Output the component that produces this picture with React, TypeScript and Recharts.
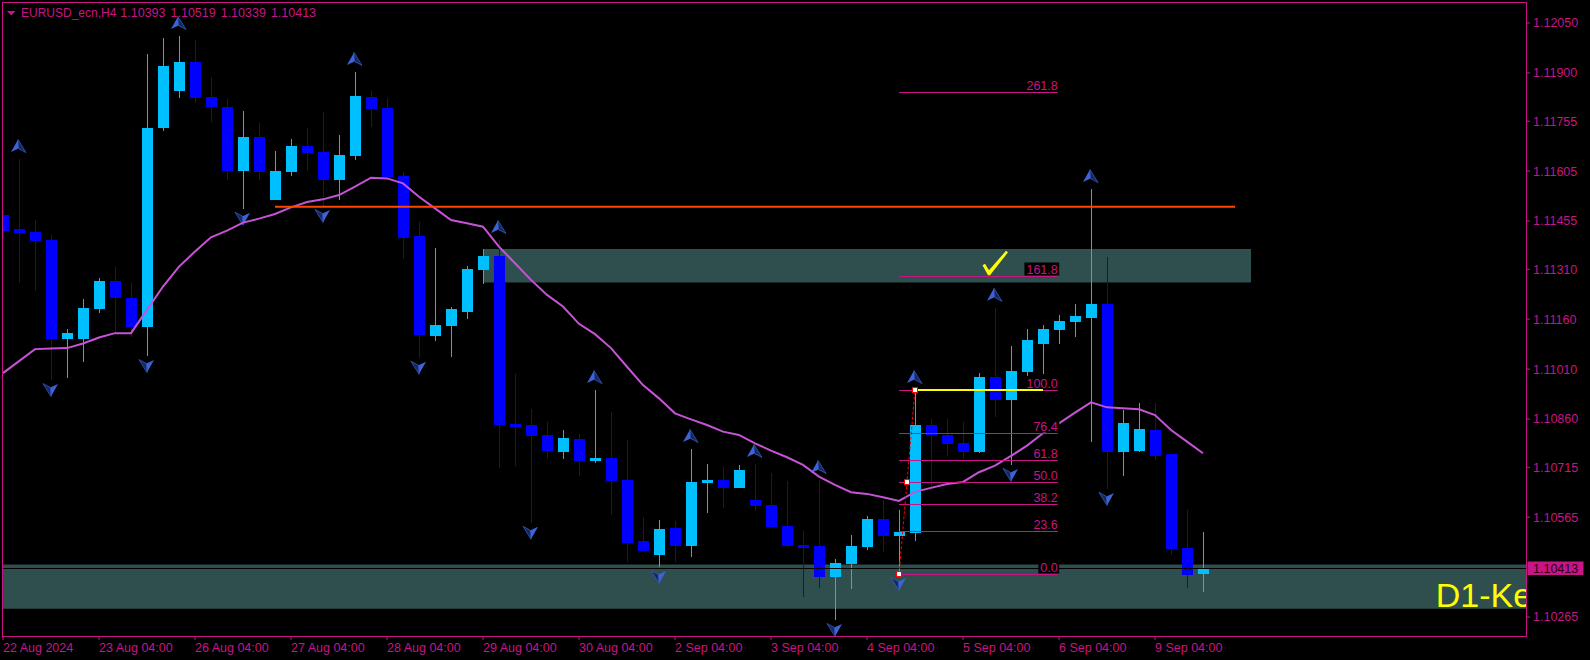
import React from "react";
import {
  Bar,
  ComposedChart,
  Line,
  ReferenceArea,
  ReferenceDot,
  ReferenceLine,
  XAxis,
  YAxis,
} from "recharts";

// EURUSD_ecn H4 candles, oldest first
const opens = [
  1.11473, 1.11431, 1.11422, 1.11398, 1.11101, 1.11101, 1.11192, 1.11275, 1.11224, 1.11137,
  1.11733, 1.11847, 1.11933, 1.11827, 1.11798, 1.11605, 1.11708, 1.11518, 1.11602, 1.11681,
  1.11663, 1.11578, 1.11651, 1.11828, 1.11795, 1.1159, 1.1141, 1.1111, 1.1114, 1.11182,
  1.11308, 1.1135, 1.10845, 1.10842, 1.10812, 1.10761, 1.108, 1.10734, 1.10743, 1.10677,
  1.10493, 1.10451, 1.10532, 1.10478, 1.10668, 1.10677, 1.10653, 1.10616, 1.10601, 1.10538,
  1.10481, 1.10478, 1.10386, 1.10424, 1.10475, 1.10559, 1.10509, 1.10518, 1.10842, 1.10812,
  1.10788, 1.10761, 1.10986, 1.10918, 1.11001, 1.11086, 1.11128, 1.11152, 1.11164, 1.11206,
  1.10761, 1.10764, 1.10827, 1.10754, 1.10472, 1.10393,
];
const highs = [
  1.11488, 1.11641, 1.11458, 1.11412, 1.11131, 1.11221, 1.11285, 1.11318, 1.11268, 1.11957,
  1.12005, 1.12011, 1.11999, 1.11887, 1.11822, 1.11786, 1.11749, 1.11666, 1.11702, 1.11735,
  1.11783, 1.11714, 1.11903, 1.11846, 1.11825, 1.11602, 1.11452, 1.11374, 1.11197, 1.1132,
  1.1137, 1.11398, 1.10995, 1.1089, 1.10851, 1.10827, 1.10815, 1.10947, 1.10881, 1.10797,
  1.10565, 1.10556, 1.10553, 1.1077, 1.10725, 1.10716, 1.10722, 1.10725, 1.10698, 1.10674,
  1.10523, 1.10677, 1.10439, 1.10511, 1.10568, 1.10616, 1.10586, 1.10947, 1.1086, 1.1086,
  1.10851, 1.10998, 1.11194, 1.11079, 1.11131, 1.11142, 1.11173, 1.11206, 1.11551, 1.11347,
  1.10887, 1.10908, 1.10908, 1.10754, 1.10586, 1.10519,
];
const lows = [
  1.114, 1.11268, 1.11246, 1.10977, 1.10984, 1.11032, 1.11178, 1.11118, 1.11106, 1.11049,
  1.11724, 1.11825, 1.11811, 1.11751, 1.11578, 1.11492, 1.11578, 1.11518, 1.1159, 1.11605,
  1.115, 1.11518, 1.11639, 1.11738, 1.11584, 1.11341, 1.11044, 1.11095, 1.11047, 1.11161,
  1.11266, 1.10714, 1.1072, 1.10548, 1.10741, 1.10741, 1.1069, 1.10729, 1.10572, 1.1043,
  1.10463, 1.10415, 1.1043, 1.10445, 1.10577, 1.10592, 1.10653, 1.10583, 1.10532, 1.10476,
  1.10326, 1.10353, 1.10256, 1.1035, 1.10466, 1.1046, 1.10394, 1.10494, 1.10656, 1.10749,
  1.10739, 1.10758, 1.10867, 1.10722, 1.10989, 1.10996, 1.11086, 1.11105, 1.10792, 1.1065,
  1.1069, 1.10761, 1.10736, 1.10451, 1.10352, 1.10339,
];
const closes = [
  1.11426, 1.1142, 1.11396, 1.111, 1.11119, 1.11194, 1.11275, 1.11225, 1.11137, 1.11735,
  1.11921, 1.11933, 1.11826, 1.11798, 1.11605, 1.11708, 1.11602, 1.11605, 1.11681, 1.1166,
  1.11578, 1.11654, 1.11831, 1.11792, 1.11588, 1.11405, 1.11112, 1.11142, 1.11191, 1.11311,
  1.1135, 1.10842, 1.10836, 1.1081, 1.10764, 1.10803, 1.10734, 1.10743, 1.10674, 1.10487,
  1.10463, 1.10529, 1.10479, 1.10671, 1.10677, 1.10653, 1.10707, 1.10599, 1.10535, 1.10478,
  1.10473, 1.10386, 1.10427, 1.10478, 1.10559, 1.10509, 1.10519, 1.10842, 1.10812, 1.10785,
  1.10761, 1.10986, 1.10918, 1.11004, 1.11097, 1.11131, 1.11155, 1.1117, 1.11206, 1.10761,
  1.10848, 1.1083, 1.10749, 1.10469, 1.10391, 1.10413,
];
// moving average drawn in violet
const maValues = [
  1.10998, 1.11034, 1.1107, 1.11072, 1.11073, 1.11087, 1.11105, 1.11118, 1.11118, 1.11188,
  1.11258, 1.11318, 1.11363, 1.11406, 1.11426, 1.1145, 1.11462, 1.11476, 1.11496, 1.11512,
  1.1152, 1.11533, 1.11558, 1.11585, 1.11583, 1.11568, 1.11528, 1.11493, 1.11458, 1.11448,
  1.11438, 1.11378, 1.11328, 1.11278, 1.11233, 1.11198, 1.11146, 1.11115, 1.11073, 1.11017,
  1.10962, 1.10922, 1.10877, 1.10859, 1.10842, 1.10822, 1.10812, 1.10787, 1.10765, 1.10745,
  1.10722, 1.10687, 1.10662, 1.1064, 1.10635, 1.10625, 1.10614, 1.10641, 1.10653, 1.10665,
  1.10671, 1.107, 1.1072, 1.10749, 1.1078, 1.10817, 1.10847, 1.10879, 1.1091, 1.10895,
  1.10892, 1.10889, 1.10872, 1.10827, 1.10792, 1.10757,
];
const upArrows = [1, 11, 22, 31, 37, 43, 47, 51, 57, 62, 68];
const downArrows = [3, 9, 15, 20, 26, 33, 41, 52, 56, 63, 69];

const timeTicks = [0, 6, 12, 18, 24, 30, 36, 42, 48, 54, 60, 66, 72];
const timeLabels = [
  "22 Aug 2024", "23 Aug 04:00", "26 Aug 04:00", "27 Aug 04:00", "28 Aug 04:00",
  "29 Aug 04:00", "30 Aug 04:00", "2 Sep 04:00", "3 Sep 04:00", "4 Sep 04:00",
  "5 Sep 04:00", "6 Sep 04:00", "9 Sep 04:00",
];
const priceTicks = [
  1.1205, 1.119, 1.11755, 1.11605, 1.11455, 1.1131, 1.1116, 1.1101, 1.1086, 1.10715, 1.10565,
  1.10265,
];

const fibRatios = [0, 23.6, 38.2, 50, 61.8, 76.4, 100, 161.8, 261.8];
const fibFrom = 56; // swing low bar
const fibTo = 57; // swing high bar
const fibEnd = 65.92;
const bidPrice = 1.10413;
const orangeLevel = 1.11498;
const upperZone = [1.1127, 1.11371];
const lowerZone = [1.1029, 1.10423];

const X_MAX = 95.1875;
const Y_DOMAIN = [1.10208, 1.1211];

const MAG = "#C71585";
const CYAN = "#00BFFF";
const BLUE = "#0000FF";
const MA_COLOR = "#C653D6";
const ZONE = "#2F4F4F";
const FONT = "'Liberation Sans', Arial, sans-serif";

const data = opens.map((o, i) => ({
  i,
  open: o,
  high: highs[i],
  low: lows[i],
  close: closes[i],
  range: [lows[i], highs[i]],
  ma: maValues[i],
}));

const fibLow = lows[fibFrom];
const fibHigh = highs[fibTo];
const fibPrice = (r: number) => fibLow + (r / 100) * (fibHigh - fibLow);

const UpArrow = ({ x, y }: { x: number; y: number }) => (
  <g transform={`translate(${x},${y})`}>
    <path d="M0,-6.5 L-7,6 L0.5,2.5 Z" fill="#3C64D8" />
    <path d="M0,-6.5 L0.5,2.5 L8,6.5 Z" fill="#16285E" stroke="#3458C0" strokeWidth={0.8} />
  </g>
);

const DownArrow = ({ x, y }: { x: number; y: number }) => (
  <g transform={`translate(${x},${y})`}>
    <path d="M0,6.5 L-8,-6.5 L-0.5,-2.5 Z" fill="#16285E" stroke="#3458C0" strokeWidth={0.8} />
    <path d="M0,6.5 L-0.5,-2.5 L7,-6 Z" fill="#3C64D8" />
  </g>
);

const Candle = (props: any) => {
  const { x, y, width, height, payload } = props;
  if (x == null || !payload) return null;
  const top = Math.min(y, y + height);
  const bot = Math.max(y, y + height);
  const span = payload.high - payload.low;
  const yOf = (p: number) => (span > 0 ? top + ((payload.high - p) / span) * (bot - top) : top);
  const cx = Math.round(x + width / 2);
  const bull = payload.close >= payload.open;
  const color = bull ? CYAN : BLUE;
  const bTop = Math.round(yOf(Math.max(payload.open, payload.close)));
  const bBot = Math.max(bTop + 1, Math.round(yOf(Math.min(payload.open, payload.close))));
  return (
    <g>
      <rect x={cx} y={Math.round(top)} width={1} height={Math.max(1, Math.round(bot) - Math.round(top))} fill={color} />
      <rect x={cx - 5} y={bTop} width={11} height={bBot - bTop} fill={color} />
      {upArrows.includes(payload.i) && <UpArrow x={cx - 1} y={top - 13} />}
      {downArrows.includes(payload.i) && <DownArrow x={cx} y={bot + 10} />}
    </g>
  );
};

const labelWidth = (s: string) =>
  s.split("").reduce((w, c) => w + (c === "." ? 3.5 : 6.95), 0);

const fibShape = (label: string) => (p: any) => {
  const y = Math.round(p.y1) + 0.5;
  const right = Math.max(p.x1, p.x2);
  const left = Math.min(p.x1, p.x2);
  const w = labelWidth(label);
  return (
    <g>
      <line x1={left} x2={right} y1={y} y2={y} stroke={MAG} strokeWidth={1} />
      <rect x={right - w - 2} y={y - 14} width={w + 3.5} height={13} fill="#000" />
      <text x={right} y={y - 2.5} textAnchor="end" fill={MAG} fontSize={12.5} fontFamily={FONT}>
        {label}
      </text>
    </g>
  );
};

const trendShape = (p: any) => {
  const pts = [
    [p.x1, p.y1],
    [(p.x1 + p.x2) / 2, (p.y1 + p.y2) / 2],
    [p.x2, p.y2],
  ];
  return (
    <g>
      <line x1={p.x1} y1={p.y1} x2={p.x2} y2={p.y2} stroke="#FF0000" strokeWidth={1} strokeDasharray="3 2" />
      {pts.map(([a, b], j) => (
        <rect key={j} x={a - 2.5} y={b - 2.5} width={5} height={5} fill="#fff" stroke="#FF0000" strokeWidth={1} />
      ))}
    </g>
  );
};

const bidShape = (p: any) => {
  const y = Math.round(p.y1) + 0.5;
  const right = Math.max(p.x1, p.x2);
  const left = Math.min(p.x1, p.x2);
  return (
    <g>
      <line x1={left} x2={right} y1={y} y2={y} stroke="#000" strokeWidth={1} />
      <rect x={right + 1.5} y={y - 7} width={56} height={13.5} fill={MAG} />
      <text x={right + 7} y={y + 4.4} fill="#2a0018" fontSize={12.5} fontFamily={FONT}>
        {bidPrice.toFixed(5)}
      </text>
    </g>
  );
};

const CheckMark = (p: any) => (
  <path
    transform={`translate(${p.cx},${p.cy})`}
    d="M-12.5,-11 L-10,-12.5 L-6,-6 L11,-25.5 L13,-24 L-5,-1 L-7,-1 Z"
    fill="#FFFF00"
  />
);

const last = opens.length - 1;
const titleValues = [opens[last], highs[last], lows[last], closes[last]].map((v) => v.toFixed(5));

export default function App() {
  return (
    <div style={{ position: "fixed", left: 0, top: 0, width: 1590, height: 660, background: "#000" }}>
      <ComposedChart
        width={1590}
        height={660}
        data={data}
        margin={{ top: 3, right: 0, bottom: 0, left: 3 }}
      >
        <XAxis
          dataKey="i"
          type="number"
          domain={[0, X_MAX]}
          allowDataOverflow
          ticks={timeTicks}
          interval={0}
          height={24}
          tickSize={4}
          tickMargin={3}
          axisLine={false}
          tickLine={{ stroke: MAG }}
          tick={{ fill: MAG, fontSize: 12.5, fontFamily: FONT, textAnchor: "start" }}
          tickFormatter={(v: number) => timeLabels[timeTicks.indexOf(v)] ?? ""}
        />
        <YAxis
          orientation="right"
          type="number"
          domain={Y_DOMAIN}
          allowDataOverflow
          ticks={priceTicks}
          interval={0}
          width={64}
          tickSize={4}
          tickMargin={3}
          axisLine={false}
          tickLine={{ stroke: MAG }}
          tick={{ fill: MAG, fontSize: 12.5, fontFamily: FONT }}
          tickFormatter={(v: number) => v.toFixed(5)}
        />
        <ReferenceArea
          x1={0}
          x2={X_MAX}
          y1={lowerZone[0]}
          y2={lowerZone[1]}
          fill={ZONE}
          fillOpacity={1}
          stroke="none"
          zIndex={50}
        />
        <ReferenceArea
          x1={30}
          x2={78}
          y1={upperZone[0]}
          y2={upperZone[1]}
          fill={ZONE}
          fillOpacity={1}
          stroke="none"
          zIndex={50}
        />
        <Bar dataKey="range" barSize={11} shape={Candle} isAnimationActive={false} />
        <Line
          dataKey="ma"
          type="linear"
          stroke={MA_COLOR}
          strokeWidth={2}
          dot={false}
          activeDot={false}
          isAnimationActive={false}
        />
        <ReferenceLine y={bidPrice} shape={bidShape} />
        <ReferenceLine
          segment={[{ x: 17, y: orangeLevel }, { x: 77, y: orangeLevel }]}
          stroke="#FF4500"
          strokeWidth={2}
        />
        {fibRatios.map((r) => (
          <ReferenceLine
            key={r}
            segment={[{ x: fibFrom, y: fibPrice(r) }, { x: fibEnd, y: fibPrice(r) }]}
            shape={fibShape(r.toFixed(1))}
          />
        ))}
        <ReferenceLine
          segment={[{ x: fibTo, y: fibHigh }, { x: 65, y: fibHigh }]}
          stroke="#FFFF00"
          strokeWidth={2}
        />
        <ReferenceLine segment={[{ x: fibFrom, y: fibLow }, { x: fibTo, y: fibHigh }]} shape={trendShape} />
        <ReferenceDot x={62} y={fibPrice(161.8)} shape={CheckMark} />
      </ComposedChart>
      <svg
        width={1590}
        height={660}
        style={{ position: "absolute", left: 0, top: 0, pointerEvents: "none" }}
      >
        <defs>
          <clipPath id="plotClip">
            <rect x={3} y={3} width={1523} height={633} />
          </clipPath>
        </defs>
        <rect x={2.5} y={2.5} width={1524} height={634} fill="none" stroke={MAG} strokeWidth={1} />
        <path d="M7,11 L15.5,11 L11.25,15.5 Z" fill={MAG} />
        <text x={21} y={16.7} fill={MAG} fontSize={12} fontFamily={FONT}>
          EURUSD_ecn,H4
        </text>
        {titleValues.map((v, j) => (
          <text key={j} x={120.3 + j * 50.2} y={16.7} fill={MAG} fontSize={12.5} fontFamily={FONT}>
            {v}
          </text>
        ))}
        <text x={1435.7} y={606.5} fill="#FFFF00" fontSize={34} fontFamily={FONT} clipPath="url(#plotClip)">
          D1-Ke
        </text>
      </svg>
    </div>
  );
}
